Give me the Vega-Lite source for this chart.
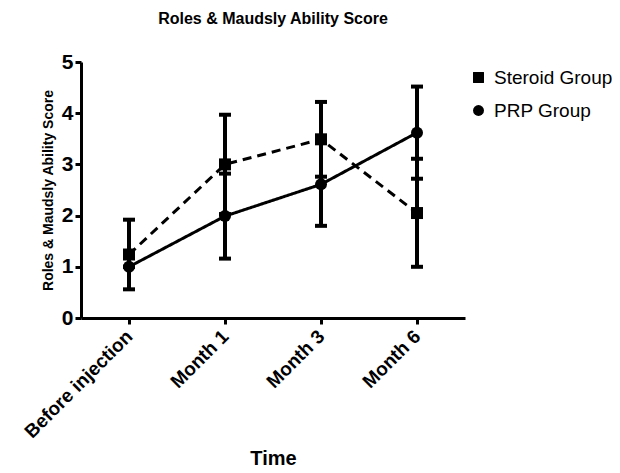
{
  "$schema": "https://vega.github.io/schema/vega-lite/v6.json",
  "width": 384,
  "height": 256,
  "autosize": {"type": "none"},
  "padding": {"left": 81, "top": 62, "right": 155, "bottom": 155},
  "background": "white",
  "config": {
    "font": "Liberation Sans",
    "view": {"stroke": null},
    "axis": {"domainColor": "black", "domainWidth": 3, "tickColor": "black", "tickWidth": 3, "tickSize": 6, "labelColor": "black", "titleColor": "black", "grid": false},
    "legend": {"title": null, "orient": "none", "legendX": 388, "legendY": 6, "labelFontSize": 19, "labelColor": "black", "labelOffset": 6, "symbolSize": 120, "rowPadding": 10, "padding": 0, "symbolFillColor": "black", "symbolStrokeColor": "black", "symbolStrokeWidth": 3, "symbolOpacity": 1}
  },
  "title": {"text": "Roles & Maudsly Ability Score", "fontSize": 16, "fontWeight": "bold", "frame": "group", "anchor": "middle", "offset": 24, "color": "black"},
  "data": {"values": [
    {"time": "Before injection", "group": "Steroid Group", "mean": 1.24, "lo": 0.56, "hi": 1.92},
    {"time": "Month 1", "group": "Steroid Group", "mean": 3.0, "lo": 2.03, "hi": 3.97},
    {"time": "Month 3", "group": "Steroid Group", "mean": 3.49, "lo": 2.76, "hi": 4.22},
    {"time": "Month 6", "group": "Steroid Group", "mean": 2.05, "lo": 1.0, "hi": 3.11},
    {"time": "Before injection", "group": "PRP Group", "mean": 1.0, "lo": 1.0, "hi": 1.0},
    {"time": "Month 1", "group": "PRP Group", "mean": 1.99, "lo": 1.16, "hi": 2.82},
    {"time": "Month 3", "group": "PRP Group", "mean": 2.61, "lo": 1.8, "hi": 3.42},
    {"time": "Month 6", "group": "PRP Group", "mean": 3.62, "lo": 2.72, "hi": 4.52}
  ]},
  "encoding": {
    "x": {
      "field": "time", "type": "ordinal",
      "sort": ["Before injection", "Month 1", "Month 3", "Month 6"],
      "scale": {"type": "point", "padding": 0.5},
      "axis": {"title": "Time", "labelAngle": -45, "labelAlign": "right", "labelBaseline": "middle", "labelFontSize": 19, "labelFontWeight": "bold", "labelPadding": 9, "titleFontSize": 20, "titleFontWeight": "bold", "titleY": 140, "titleBaseline": "middle"}
    }
  },
  "layer": [
    {
      "mark": {"type": "rule", "color": "black", "strokeWidth": 4},
      "encoding": {
        "y": {"field": "lo", "type": "quantitative", "scale": {"domain": [0, 5], "nice": false}, "axis": {"title": "Roles & Maudsly Ability Score", "values": [0, 1, 2, 3, 4, 5], "labelFontSize": 21, "labelFontWeight": "bold", "labelPadding": 2, "titleFontSize": 14, "titleFontWeight": "bold", "titlePadding": 6}},
        "y2": {"field": "hi"}
      }
    },
    {
      "mark": {"type": "tick", "color": "black", "size": 12, "thickness": 4, "opacity": 1},
      "encoding": {"y": {"field": "lo", "type": "quantitative"}}
    },
    {
      "mark": {"type": "tick", "color": "black", "size": 12, "thickness": 4, "opacity": 1},
      "encoding": {"y": {"field": "hi", "type": "quantitative"}}
    },
    {
      "mark": {"type": "line", "color": "black", "strokeWidth": 3},
      "encoding": {
        "y": {"field": "mean", "type": "quantitative"},
        "detail": {"field": "group"},
        "strokeDash": {"field": "group", "type": "nominal", "scale": {"domain": ["Steroid Group", "PRP Group"], "range": [[9, 6], [1, 0]]}, "legend": {"symbolType": "stroke", "symbolDash": [1, 0]}}
      }
    },
    {
      "mark": {"type": "point", "filled": true, "color": "black", "size": 144, "opacity": 1},
      "encoding": {
        "y": {"field": "mean", "type": "quantitative"},
        "shape": {"field": "group", "type": "nominal", "scale": {"domain": ["Steroid Group", "PRP Group"], "range": ["square", "circle"]}}
      }
    }
  ]
}
